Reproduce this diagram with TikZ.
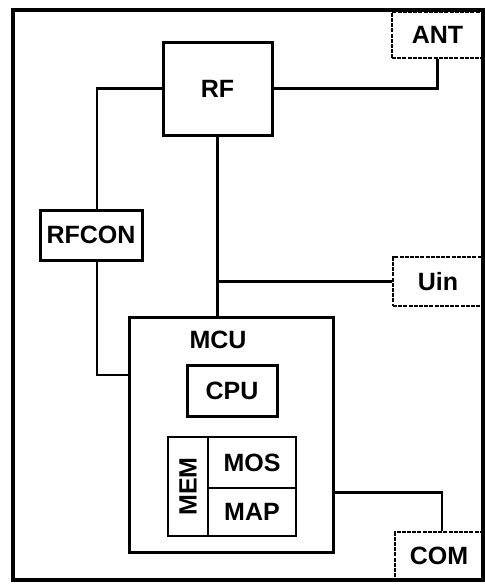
\documentclass[tikz,border=0pt]{standalone}
\usepackage{fontspec}
\setmainfont{Liberation Sans}
\usetikzlibrary{positioning}

\begin{document}
\begin{tikzpicture}[
    x=0.5pt, y=-0.5pt,
    block/.style={draw, line width=1.5pt, inner sep=0pt, font=\fontsize{12.5}{14}\selectfont\bfseries},
    port/.style={draw, dash pattern=on 2pt off 0.6pt, line width=0.9pt, inner sep=0pt, font=\fontsize{12.5}{14}\selectfont\bfseries},
    label/.style={inner sep=0pt, font=\fontsize{12.5}{14}\selectfont\bfseries},
    cell/.style={draw, line width=1pt, inner sep=0pt, font=\fontsize{12.5}{14}\selectfont\bfseries},
    wire/.style={line width=1.3pt},
]
\useasboundingbox (0,0) rectangle (484,584);

% Outer frame
\draw[line width=2pt] (13,10) rectangle (483,580);

% External ports
\node[port, minimum width=45.5pt, minimum height=23pt] (ant) at (437.5,35) {ANT};
\node[port, minimum width=45pt, minimum height=24.5pt] (uin) at (438,281.5) {Uin};
\node[port, minimum width=44pt, minimum height=24pt] (com) at (439,556) {COM};

% RF part
\node[block, minimum width=54.5pt, minimum height=46.5pt] (rf) at (217.5,88.5) {RF};
\node[block, minimum width=51pt, minimum height=25pt] (rfcon) at (91,235) {RFCON};

% Controller
\node[block, minimum width=102pt, minimum height=117.5pt] (mcu) at (231,434.5) {};
\node[label] (mcutxt) at (218,340) {MCU};
\node[block, minimum width=45pt, minimum height=25.5pt] (cpu) at (232,390.5) {CPU};

% Memory
\node[cell, minimum width=44pt, minimum height=25.5pt] (mos) at (252,462.5) {MOS};
\node[cell, minimum width=44pt, minimum height=24pt] (map) at (252,512) {MAP};
\node[cell, line width=1.3pt, minimum width=64pt, minimum height=49.5pt] (mem) at (232,486.5) {};
\node[label, rotate=90] (memtxt) at (188,486.5) {MEM};

% Wires
\draw[wire] (rf.east) -| (ant.south);
\draw[wire] (rf.west) -| ([xshift=3pt]rfcon.north);
\draw[wire] ([xshift=3pt]rfcon.south) |- ([yshift=29.75pt]mcu.west);
\draw[wire] (rf.south) -- (rf.south |- mcu.north);
\draw[wire] (rf.south |- uin.west) -- (uin.west);
\draw[wire] ([yshift=-29pt]mcu.east) -| ([xshift=1.5pt]com.north);

\end{tikzpicture}
\end{document}
